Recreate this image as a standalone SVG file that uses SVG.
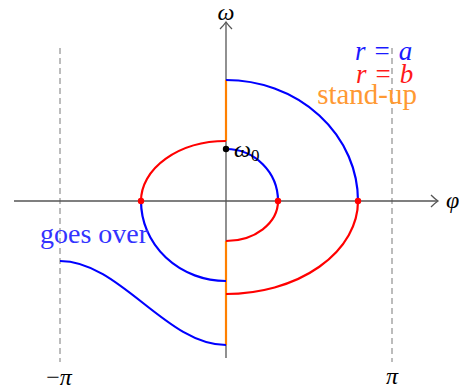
<svg xmlns="http://www.w3.org/2000/svg" width="459" height="390" viewBox="0 0 459 390">
<style>
.ax{stroke:#555;stroke-width:1.3;fill:none}
.dash{stroke:#999;stroke-width:1.3;stroke-dasharray:6 4;fill:none}
.c{fill:none;stroke-width:2.2}
.blue{stroke:#0000ff}
.red{stroke:#ff0000}
.org{stroke:#ff8000}
.t{font-family:"Liberation Serif","DejaVu Serif",serif}
.m{font-family:"Liberation Serif","DejaVu Serif",serif;font-style:italic}
</style>
<rect width="459" height="390" fill="#fff"/>
<g id="guides">
<path class="dash" d="M60,48V362"/>
<path class="dash" d="M392,48V362"/>
</g>
<g id="axes">
<path class="ax" d="M14,201H437"/>
<path class="ax" d="M431,195Q435,199 438,201Q435,203 431,207"/>
<path class="ax" d="M226,358V23"/>
<path class="ax" d="M220,29Q224,25 226,22Q228,25 232,29"/>
</g>
<g id="connectors">
<path class="c org" d="M226,80V141"/>
<path class="c org" d="M226,241V345"/>
<path class="c blue" d="M226,149A52,52 0 0 1 278,201"/>
<path class="c red" d="M278,201A52,40 0 0 1 226,241"/>
<path class="c red" d="M226,141A85,60 0 0 0 141,201"/>
<path class="c blue" d="M141,201A85,80 0 0 0 226,281"/>
<path class="c blue" d="M226,80A132,121 0 0 1 358,201"/>
<path class="c red" d="M358,201A132,93 0 0 1 226,294"/>
<path class="c blue" d="M60,261C120,261 166,345 226,345"/>
</g>
<g id="points">
<circle cx="141" cy="201" r="3.2" fill="#ff0000"/>
<circle cx="278" cy="201" r="3.2" fill="#ff0000"/>
<circle cx="358" cy="201" r="3.2" fill="#ff0000"/>
<circle cx="226" cy="149" r="3.2" fill="#000"/>
</g>
<g id="labels">
<text class="m" x="226" y="20" font-size="24" text-anchor="middle">ω</text>
<text class="m" x="446" y="208" font-size="24">φ</text>
<text class="t" x="59" y="385" font-size="24" text-anchor="middle">−<tspan font-style="italic">π</tspan></text>
<text class="m" x="392" y="384" font-size="24" text-anchor="middle">π</text>
<text class="m" x="234" y="157" font-size="24">ω<tspan font-style="normal" font-size="17" dy="4">0</tspan></text>
<text class="m" x="355" y="60" font-size="27" fill="#1a1aff">r<tspan font-style="normal" dx="9">=</tspan><tspan dx="9">a</tspan></text>
<text class="m" x="356" y="83" font-size="27" fill="#ff1a1a">r<tspan font-style="normal" dx="9">=</tspan><tspan dx="9">b</tspan></text>
<text class="t" x="417" y="104" font-size="29" text-anchor="end" fill="#ff9933">stand-up</text>
<text class="t" x="40" y="243" font-size="28" fill="#3333ff">goes over</text>
</g>
</svg>
